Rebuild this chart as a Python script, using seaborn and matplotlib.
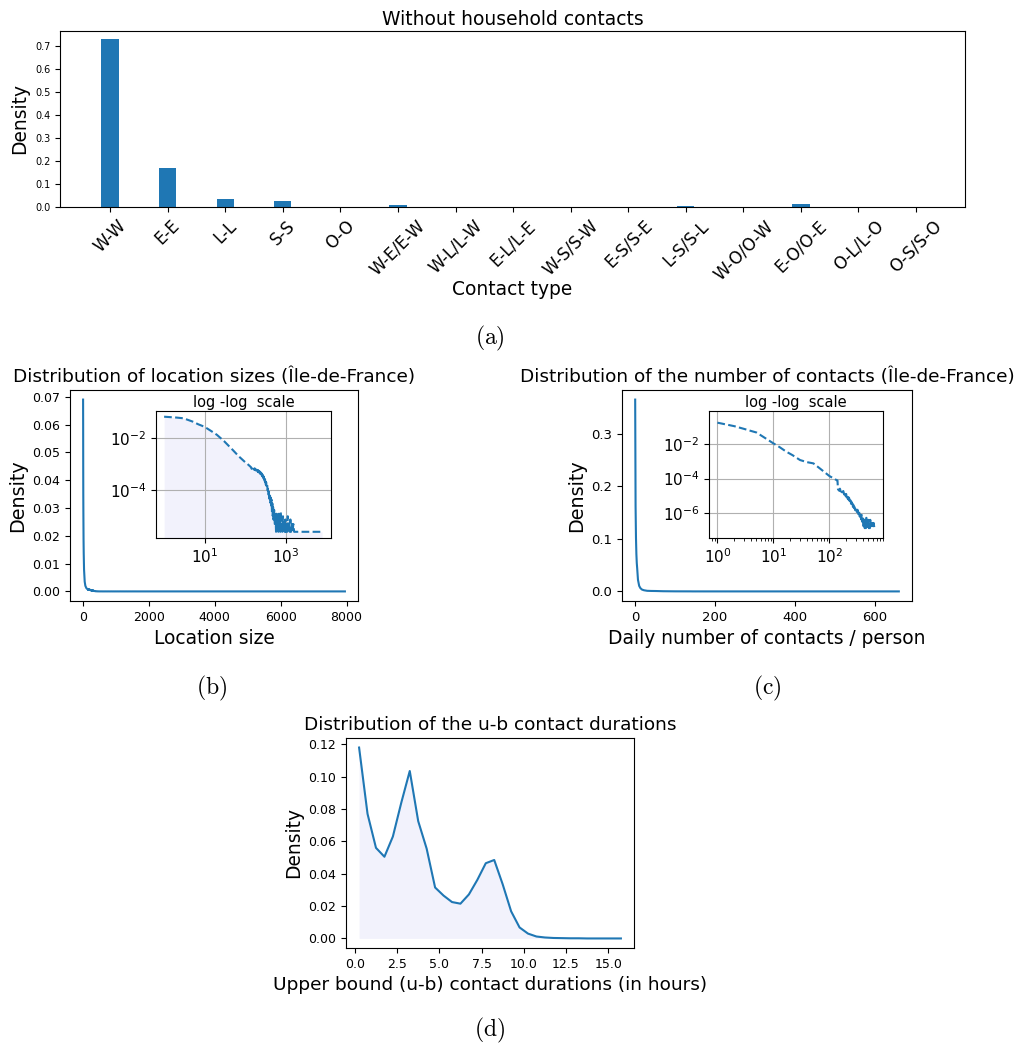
import numpy as np
import pandas as pd
import matplotlib
matplotlib.use("Agg")
import matplotlib.pyplot as plt
import matplotlib.ticker as mticker
import seaborn as sns

# (a) contact type shares, without household contacts
contact_types = ['W-W', 'E-E', 'L-L', 'S-S', 'O-O', 'W-E/E-W', 'W-L/L-W', 'E-L/L-E',
                 'W-S/S-W', 'E-S/S-E', 'L-S/S-L', 'W-O/O-W', 'E-O/O-E', 'O-L/L-O', 'O-S/S-O']
type_density = [0.728, 0.170, 0.036, 0.027, 0.001, 0.010, 0.001, 0.001,
                0.001, 0.001, 0.004, 0.001, 0.014, 0.001, 0.0005]

# (b) location sizes, Ile-de-France
loc_size = [1, 2, 3, 5, 7, 10, 15, 20, 30, 50, 70, 100, 120,
            140, 145, 150, 155, 160, 165, 170, 175, 180, 185, 190, 195, 200, 205, 210, 215,
            220, 225, 230, 235, 240, 245, 250, 255, 260, 265, 270, 275, 280, 285, 290, 295,
            300, 305, 310, 315, 320, 325, 330, 340, 350, 360, 370, 380, 390, 400, 410, 420,
            430, 440, 450, 460, 470, 480, 490, 500, 520, 540, 560, 580, 600, 620, 640, 660,
            680, 700, 720, 740, 760, 780, 800, 830, 860, 890, 920, 950, 980, 1010, 1050,
            1090, 1130, 1170, 1210, 1260, 1310, 1360, 1420, 1480, 1550, 1620, 1700, 1850,
            2100, 2600, 3300, 4200, 5500, 7950]
loc_density = [0.069, 0.064, 0.060, 0.045, 0.035, 0.028, 0.0186, 0.0138, 0.0079, 0.0035,
               0.0020, 0.0012, 9.5e-4,
               7.6e-4, 6.6e-4, 7.4e-4, 6.4e-4, 7.0e-4, 6.2e-4, 6.9e-4, 5.9e-4, 6.6e-4, 5.7e-4,
               6.3e-4, 5.4e-4, 6.0e-4, 5.1e-4, 5.8e-4, 4.8e-4, 5.5e-4, 4.5e-4, 5.2e-4, 4.3e-4,
               4.9e-4, 4.0e-4, 4.6e-4, 3.7e-4, 4.3e-4, 3.4e-4, 3.9e-4, 3.1e-4, 3.6e-4, 2.8e-4,
               3.3e-4, 2.5e-4, 2.9e-4, 2.2e-4, 2.6e-4, 1.9e-4, 2.3e-4, 1.6e-4, 2.0e-4, 1.3e-4,
               1.6e-4, 9.5e-5, 1.2e-4, 6.5e-5, 9.0e-5, 4.5e-5, 7.0e-5, 3.2e-5, 5.0e-5, 2.2e-5,
               4.2e-5, 1.4e-5, 3.0e-5, 1.0e-5, 2.2e-5, 7.2e-6, 1.7e-5, 4.8e-6, 1.4e-5, 2.4e-6,
               1.2e-5, 2.4e-6, 9.6e-6, 2.4e-6, 1.2e-5, 2.4e-6, 7.2e-6, 2.4e-6, 1.4e-5, 2.4e-6,
               4.8e-6, 2.4e-6, 9.6e-6, 2.4e-6, 4.8e-6, 2.4e-6, 7.2e-6, 2.4e-6, 4.8e-6, 2.4e-6,
               9.6e-6, 2.4e-6, 4.8e-6, 2.4e-6, 7.2e-6, 2.4e-6, 4.8e-6, 2.4e-6, 4.8e-6, 2.4e-6,
               2.4e-6, 2.4e-6, 2.4e-6, 2.4e-6, 2.4e-6, 2.4e-6, 2.4e-6, 2.4e-6]

# (c) daily number of contacts per person
n_contacts = [0, 1, 2, 3, 4, 5, 7, 10, 13, 17, 22, 30, 40, 52, 70, 100, 120, 135, 140, 143,
              150, 155, 160, 165, 170, 178, 185, 190, 195, 200, 205, 210, 215, 220, 225, 230,
              235, 240, 245, 250, 255, 260, 265, 270, 275, 280, 290, 300, 310, 320, 330, 340,
              350, 360, 370, 380, 390, 400, 410, 420, 430, 440, 450, 460, 470, 480, 490, 500,
              510, 520, 530, 540, 550, 560, 570, 580, 590, 600, 620, 640, 660]
contact_density = [0.365, 0.162, 0.102, 0.071, 0.054, 0.044, 0.022, 0.0105, 0.0063, 0.0035,
                   0.0022, 0.00115, 8.7e-4, 7.4e-4, 3.5e-4, 1.4e-4, 1.0e-4, 8.1e-5, 7.8e-5, 2.4e-5,
                   2.0e-5, 2.6e-5, 1.8e-5, 2.3e-5, 1.6e-5, 1.9e-5, 1.2e-5, 1.5e-5, 1.0e-5, 1.3e-5,
                   8.0e-6, 1.0e-5, 6.5e-6, 8.5e-6, 5.5e-6, 7.0e-6, 4.5e-6, 5.5e-6, 3.5e-6, 4.5e-6,
                   2.8e-6, 3.6e-6, 2.3e-6, 3.0e-6, 1.8e-6, 2.4e-6, 1.5e-6, 2.0e-6, 1.2e-6, 1.6e-6,
                   9.0e-7, 1.3e-6, 6.5e-7, 1.0e-6, 4.5e-7, 8.0e-7, 3.2e-7, 6.5e-7, 1.4e-7, 5.0e-7,
                   1.4e-7, 4.2e-7, 1.4e-7, 5.5e-7, 1.4e-7, 2.8e-7, 1.4e-7, 4.2e-7, 1.4e-7, 2.8e-7,
                   1.4e-7, 4.2e-7, 1.4e-7, 2.8e-7, 1.4e-7, 2.8e-7, 1.4e-7, 1.4e-7, 2.8e-7, 1.4e-7,
                   1.4e-7]

# (d) upper bound contact durations (hours)
duration_h = [0.25, 0.75, 1.25, 1.75, 2.25, 2.75, 3.25, 3.75, 4.25, 4.75, 5.25, 5.75, 6.25,
              6.75, 7.25, 7.75, 8.25, 8.75, 9.25, 9.75, 10.25, 10.75, 11.25, 11.75, 12.25,
              12.75, 13.25, 13.75, 14.25, 14.75, 15.25, 15.75]
duration_density = [0.118, 0.077, 0.056, 0.0505, 0.063, 0.084, 0.1035, 0.0725, 0.0555, 0.0315,
                    0.0265, 0.0225, 0.0215, 0.0272, 0.0362, 0.0465, 0.0485, 0.0335, 0.0168,
                    0.0068, 0.003, 0.0012, 0.0006, 0.0003, 0.0002, 0.0001, 0.0001, 0.0,
                    0.0, 0.0, 0.0, 0.0]

blue = '#1f77b4'
fill_col = 'lavender'

fig = plt.figure(figsize=(10.19, 10.45), dpi=100)
W, H = 1019, 1045


def box(left, top, right, bottom):
    # pixel box -> figure fraction
    return [left / W, 1 - bottom / H, (right - left) / W, (bottom - top) / H]


# ---- (a) bar chart
ax_a = fig.add_axes(box(60, 31, 965, 207))
df_a = pd.DataFrame({'type': contact_types, 'density': type_density})
sns.barplot(data=df_a, x='type', y='density', color=blue, saturation=1, width=0.3, ax=ax_a)
ax_a.set_xlim(-0.87, 14.85)
ax_a.yaxis.set_major_locator(mticker.MultipleLocator(0.1))
ax_a.set_title('Without household contacts', fontsize=13.5, pad=4)
ax_a.set_xlabel('Contact type', fontsize=13.4, labelpad=-2.5)
ax_a.set_ylabel('Density', fontsize=13.4)
ax_a.tick_params(axis='x', labelsize=12, labelrotation=45)
ax_a.tick_params(axis='y', labelsize=7)

# ---- (b) location sizes
df_b = pd.DataFrame({'size': loc_size, 'density': loc_density})
ax_b = fig.add_axes(box(70, 390, 358, 601))
sns.lineplot(data=df_b, x='size', y='density', color=blue, ax=ax_b)
ax_b.set_title('Distribution of location sizes (Île-de-France)', fontsize=13.3)
ax_b.set_xlabel('Location size', fontsize=13.4)
ax_b.set_ylabel('Density', fontsize=13.8)
ax_b.tick_params(labelsize=9)

ins_b = fig.add_axes(box(156, 411, 331, 538))
sns.lineplot(data=df_b, x='size', y='density', color=blue, linestyle='--', ax=ins_b)
ins_b.fill_between(df_b['size'], df_b['density'], 1e-9, color=fill_col, alpha=0.5, lw=0)
ins_b.set_xscale('log')
ins_b.set_yscale('log')
ins_b.set_xlim(10 ** -0.2, 10 ** 4.12)
ins_b.set_ylim(10 ** -5.86, 10 ** -0.94)
ins_b.xaxis.set_major_locator(mticker.FixedLocator([10, 1000]))
ins_b.yaxis.set_major_locator(mticker.FixedLocator([1e-2, 1e-4]))
ins_b.xaxis.set_minor_locator(mticker.NullLocator())
ins_b.yaxis.set_minor_locator(mticker.NullLocator())
ins_b.grid(True, color='#b0b0b0', lw=0.8)
ins_b.set_xlabel('')
ins_b.set_ylabel('')
ins_b.set_title('log -log  scale', fontsize=10.5, pad=3)
ins_b.tick_params(labelsize=11)

# ---- (c) number of contacts
df_c = pd.DataFrame({'n': n_contacts, 'density': contact_density})
ax_c = fig.add_axes(box(622, 390, 912, 601))
sns.lineplot(data=df_c, x='n', y='density', color=blue, ax=ax_c)
ax_c.xaxis.set_major_locator(mticker.MultipleLocator(200))
ax_c.set_title('Distribution of the number of contacts (Île-de-France)', fontsize=13.3)
ax_c.set_xlabel('Daily number of contacts / person', fontsize=13.4)
ax_c.set_ylabel('Density', fontsize=13.8)
ax_c.tick_params(labelsize=9.5)

ins_c = fig.add_axes(box(709, 411, 883, 538))
sns.lineplot(data=df_c[df_c['n'] > 0], x='n', y='density', color=blue, linestyle='--', ax=ins_c)
ins_c.set_xscale('log')
ins_c.set_yscale('log')
ins_c.set_xlim(10 ** -0.15, 10 ** 2.96)
ins_c.set_ylim(10 ** -7.42, 10 ** -0.12)
ins_c.xaxis.set_major_locator(mticker.FixedLocator([1, 10, 100]))
ins_c.yaxis.set_major_locator(mticker.FixedLocator([1e-2, 1e-4, 1e-6]))
ins_c.yaxis.set_minor_locator(mticker.NullLocator())
ins_c.grid(True, which='major', color='#b0b0b0', lw=0.8)
ins_c.set_xlabel('')
ins_c.set_ylabel('')
ins_c.set_title('log -log  scale', fontsize=10.5, pad=3)
ins_c.tick_params(labelsize=11)

# ---- (d) contact durations
df_d = pd.DataFrame({'hours': duration_h, 'density': duration_density})
ax_d = fig.add_axes(box(346, 738, 634, 948))
sns.lineplot(data=df_d, x='hours', y='density', color=blue, ax=ax_d)
ax_d.fill_between(df_d['hours'], df_d['density'], color=fill_col, alpha=0.5, lw=0)
ax_d.set_title('Distribution of the u-b contact durations', fontsize=13.3)
ax_d.set_xlabel('Upper bound (u-b) contact durations (in hours)', fontsize=13.3)
ax_d.set_ylabel('Density', fontsize=13.4)
ax_d.tick_params(labelsize=9)

# panel letters
for txt, x, y in [('(a)', 490, 338), ('(b)', 212, 688), ('(c)', 767, 688), ('(d)', 490, 1030)]:
    fig.text(x / W, 1 - y / H, r'$\mathrm{' + txt + '}$', math_fontfamily='cm',
             fontsize=17, ha='center', va='center')

fig.savefig('out.png', dpi=100)
